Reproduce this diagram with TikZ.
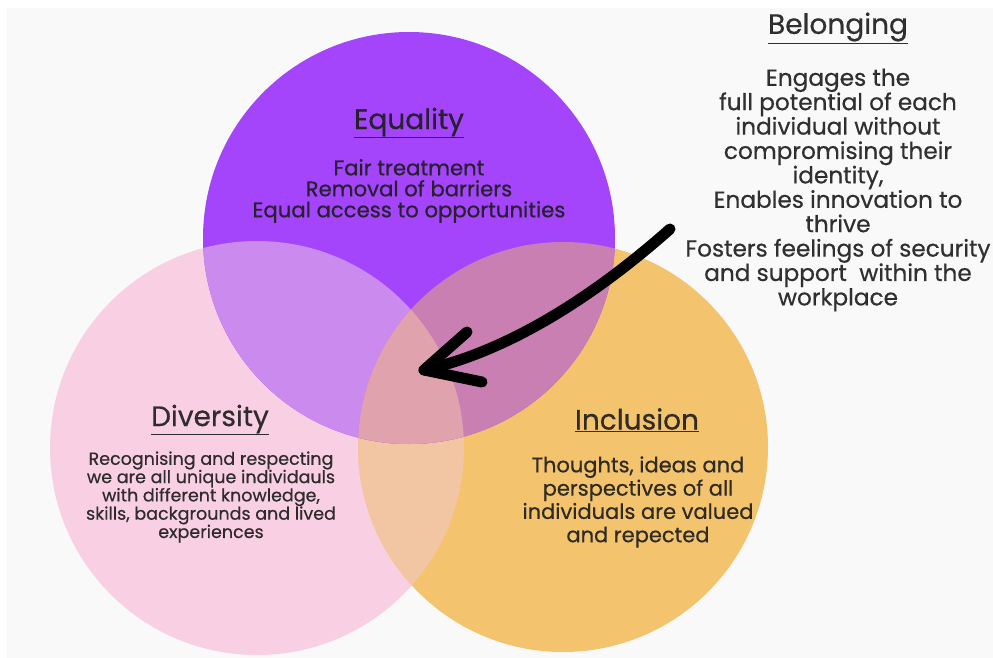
\documentclass[tikz,border=0pt]{standalone}
\usepackage{fontspec}
\setmainfont{Poppins}[FakeBold=0.5]
\usepackage{tikz}

\definecolor{bggray}{HTML}{F9F9F9}
\definecolor{eqpurple}{HTML}{A445FC}
\definecolor{divpink}{HTML}{F9D0E3}
\definecolor{incorange}{HTML}{F3C36E}
\definecolor{eqdiv}{HTML}{CB8AEE}
\definecolor{eqinc}{HTML}{C97FB2}
\definecolor{divinc}{HTML}{F2C6A2}
\definecolor{allthree}{HTML}{E0A3AD}
\definecolor{inktext}{HTML}{1C1C1C}

\begin{document}
\begin{tikzpicture}
[
x=1pt, y=-1pt,
every node/.style={align=center, text=inktext, text opacity=0.9, inner sep=0pt},
title/.style={font=\fontsize{28}{30}\selectfont},
bodytext/.style={font=\fontsize{21.2}{21}\selectfont},
arrowline/.style={line width=11pt, line cap=round, line join=round}
]

\useasboundingbox (0,0) rectangle (993,658);
\fill[bggray] (7,8) rectangle (993,658);

% circle centres
\coordinate (eqc) at (409,238);
\coordinate (divc) at (257,448);
\coordinate (incc) at (563,447);

\fill[divpink] (divc) circle[radius=207pt];
\fill[incorange] (incc) circle[radius=205pt];
\begin{scope}
\clip (divc) circle[radius=207pt];
\fill[divinc] (incc) circle[radius=205pt];
\end{scope}
\fill[eqpurple] (eqc) circle[radius=206pt];

% overlaps with equality
\begin{scope}
\clip (eqc) circle[radius=206pt];
\fill[eqdiv] (divc) circle[radius=207pt];
\fill[eqinc] (incc) circle[radius=205pt];
\clip (divc) circle[radius=207pt];
\fill[allthree] (incc) circle[radius=205pt];
\end{scope}

% labels
\node[title] (equality) at (409,123) {\underline{Equality}};
\node[bodytext] (eqtext) at (409,191) {Fair treatment\\Removal of barriers\\Equal access to opportunities};

\node[title] (diversity) at (210,420) {\underline{Diversity}};
\node[bodytext, font=\fontsize{17.5}{18.3}\selectfont] (divtext) at (211,497)
  {Recognising and respecting\\we are all unique individauls\\with different knowledge,\\skills, backgrounds and lived\\experiences};

\node[title] (inclusion) at (637,420) {\underline{Inclusion}};
\node[bodytext, font=\fontsize{21}{23.3}\selectfont] (inctext) at (638,502)
  {Thoughts, ideas and\\perspectives of all\\individuals are valued\\and repected};

\node[title] (belonging) at (838,28) {\underline{Belonging}};
\node[bodytext, font=\fontsize{23.2}{24.4}\selectfont] (beltext) at (838,190)
  {Engages the\\full potential of each\\individual without\\compromising their\\identity,\\Enables innovation to\\thrive\\Fosters feelings of security\\and support\ \ within the\\workplace};

% arrow into the middle
\coordinate (arrstart) at (670,229);
\coordinate (arrtip) at (424,370);
\coordinate (barbup) at (467,332);
\coordinate (barbdown) at (482,382);
\draw[arrowline] (arrstart) .. controls (590,300) and (505,352) .. (arrtip);
\draw[arrowline] (barbup) -- (arrtip) -- (barbdown);
\end{tikzpicture}
\end{document}
